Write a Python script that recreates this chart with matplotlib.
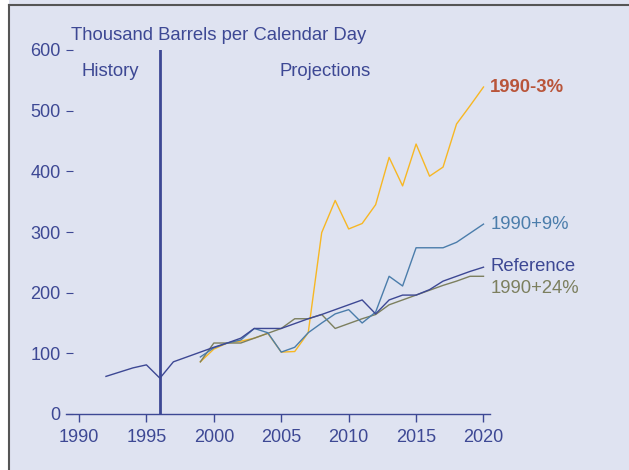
import matplotlib.pyplot as plt
from matplotlib.lines import Line2D
from matplotlib.patches import Rectangle

plt.rcParams['font.family'] = ['Liberation Sans', 'DejaVu Sans']

# history + reference case
ref_years = [1992, 1994, 1995, 1996, 1997, 1998, 1999, 2000, 2001, 2002, 2003, 2004, 2005,
             2006, 2007, 2008, 2009, 2010, 2011, 2012, 2013, 2014, 2015, 2016, 2017,
             2018, 2019, 2020]
ref_vals = [62, 76, 81, 59, 86, 94, 102, 110, 117, 125, 141, 141, 141,
            149, 157, 164, 172, 180, 188, 165, 188, 196, 196, 205, 219,
            227, 235, 242]

proj_years = list(range(1999, 2021))
low3_vals = [86, 107, 117, 120, 125, 133, 102, 103, 134, 299, 352, 305, 314, 345,
             423, 376, 445, 392, 407, 478, 508, 539]
plus9_vals = [94, 109, 117, 122, 141, 134, 102, 110, 134, 150, 165, 172, 150, 168,
              227, 211, 274, 274, 274, 283, 298, 313]
plus24_vals = [86, 117, 117, 117, 125, 133, 141, 157, 157, 164, 141, 149, 157, 164,
               180, 188, 196, 204, 212, 219, 227, 227]

bg = '#dfe3f1'
navy = '#3d4894'
steel = '#4b7dab'
gold = '#f7b724'
olive = '#7c7f5e'
rust = '#b9553a'

fig = plt.figure(figsize=(6.29, 4.70), dpi=100, facecolor='white')
fig.patches.append(Rectangle((9 / 629, 0), 1, 1, transform=fig.transFigure,
                             facecolor=bg, edgecolor='none', zorder=-10))
fig.lines.append(Line2D([9 / 629, 9 / 629], [0, 1 - 5 / 470], transform=fig.transFigure,
                        color='#555555', lw=1.5))
fig.lines.append(Line2D([9 / 629, 1], [1 - 5 / 470, 1 - 5 / 470], transform=fig.transFigure,
                        color='#555555', lw=1.5))

ax = fig.add_axes([66 / 629, 1 - 414 / 470, (490 - 66) / 629, (414 - 50) / 470])
ax.set_facecolor(bg)
ax.patch.set_alpha(0)

ax.plot(proj_years, low3_vals, color=gold, lw=1.0)
ax.plot(proj_years, plus24_vals, color=olive, lw=1.0)
ax.plot(proj_years, plus9_vals, color=steel, lw=1.0)
ax.plot(ref_years, ref_vals, color=navy, lw=1.0)
ax.plot([1996, 1996], [0, 600], color=navy, lw=2.0)

ax.set_xlim(1990 - 13 / 13.48, 2020 + 6.5 / 13.48)
ax.set_ylim(0, 600)
for s in ['top', 'right', 'left']:
    ax.spines[s].set_visible(False)
ax.spines['bottom'].set_color(navy)
ax.spines['bottom'].set_linewidth(1.0)

ax.set_xticks(range(1990, 2021, 5))
ax.set_yticks(range(0, 601, 100))
ax.tick_params(axis='x', colors=navy, labelsize=13, length=6, width=1.0, pad=5)
ax.tick_params(axis='y', colors=navy, labelsize=13, length=5, width=0.8,
               direction='in', pad=4)

tk = dict(transform=ax.transData, fontsize=13.3)
ax.text(1989.4, 624, 'Thousand Barrels per Calendar Day', color=navy, ha='left',
        va='center', clip_on=False, **tk)
ax.text(1990.2, 564, 'History', color=navy, ha='left', va='center', **tk)
ax.text(2004.9, 564, 'Projections', color=navy, ha='left', va='center', **tk)
ax.text(2020.5, 539, '1990-3%', color=rust, fontweight='bold', ha='left', va='center',
        clip_on=False, **tk)
ax.text(2020.5, 312, '1990+9%', color=steel, ha='left', va='center', clip_on=False, **tk)
ax.text(2020.5, 243, 'Reference', color=navy, ha='left', va='center', clip_on=False, **tk)
ax.text(2020.5, 207, '1990+24%', color=olive, ha='left', va='center', clip_on=False, **tk)

fig.savefig('out.png', dpi=100, facecolor='white')
